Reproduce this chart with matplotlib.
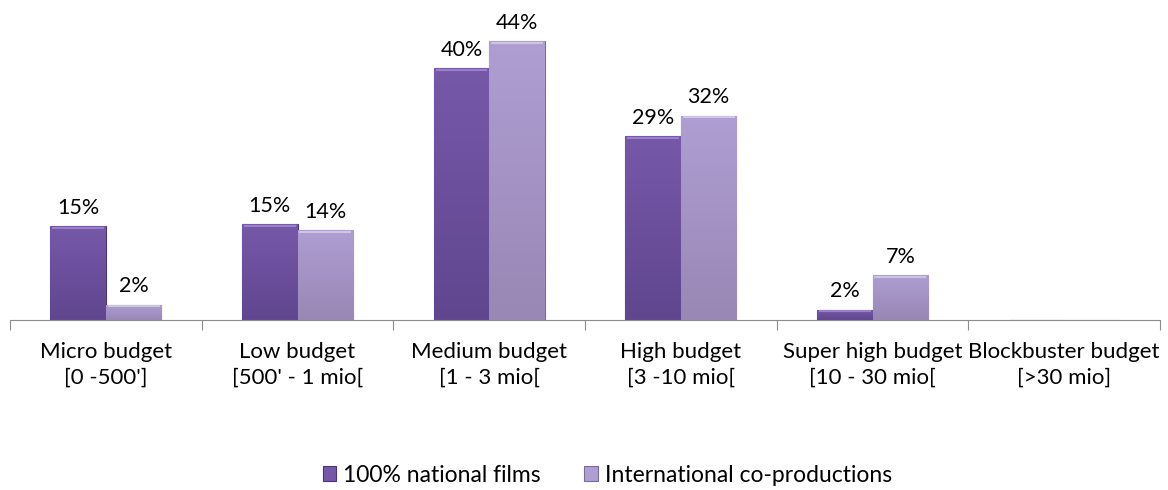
import numpy as np
import matplotlib
matplotlib.use("Agg")
import matplotlib.pyplot as plt
from matplotlib.colors import LinearSegmentedColormap

categories = ["Micro budget\n[0 -500']", "Low budget\n[500' - 1 mio[",
              "Medium budget\n[1 - 3 mio[", "High budget\n[3 -10 mio[",
              "Super high budget\n[10 - 30 mio[", "Blockbuster budget\n[>30 mio]"]
national = [14.8, 15.1, 39.7, 29.0, 1.6, 0.0]
international = [2.4, 14.2, 44.0, 32.2, 7.1, 0.0]
series_names = ["100% national films", "International co-productions"]

# (bottom, top) gradient colours, edge colour, top highlight
STYLE = {
    0: ("#60468f", "#7658a9", "#4a3472", "#9a80c8"),
    1: ("#9987b5", "#ae9ed2", "#7a6c96", "#cfc3ea"),
}

plt.rcParams["font.family"] = ["Lato", "DejaVu Sans"]

fig = plt.figure(figsize=(11.68, 4.9), dpi=100)
ax = fig.add_axes([0.0086, 0.347, 0.9846, 0.647])

x = np.arange(len(categories))
w = 0.29
grad = np.linspace(0, 1, 64).reshape(-1, 1)

handles = []
for i, (vals, offs) in enumerate(((national, -w / 2), (international, w / 2))):
    c_bot, c_top, c_edge, c_hi = STYLE[i]
    cmap = LinearSegmentedColormap.from_list(f"g{i}", [c_bot, c_top])
    bars = ax.bar(x + offs, vals, w, color=c_top, edgecolor=c_edge, lw=0.8,
                  label=series_names[i], zorder=2)
    handles.append(bars)
    for r, v in zip(bars, vals):
        if v <= 0:
            continue
        x0 = r.get_x()
        im = ax.imshow(grad, extent=[x0, x0 + w, 0, v], origin="lower",
                       aspect="auto", cmap=cmap, zorder=2.5)
        im.set_clip_path(r)
        ax.plot([x0 + 0.01, x0 + w - 0.01], [v - 0.25, v - 0.25], color=c_hi,
                lw=1.5, zorder=3, solid_capstyle="butt")
        ax.annotate(f"{round(v):.0f}%", (x0 + w / 2, v),
                    xytext=(0, 6), textcoords="offset points",
                    ha="center", va="bottom", fontsize=15.5)

ax.set_xlim(-0.5, len(categories) - 0.5)
ax.set_ylim(0, 50)
ax.set_yticks([])
for s in ("top", "right", "left"):
    ax.spines[s].set_visible(False)
ax.spines["bottom"].set_color("#8c8c8c")

ax.set_xticks(np.arange(len(categories) + 1) - 0.5)
ax.set_xticklabels([])
ax.tick_params(axis="x", length=7, color="#8c8c8c")
ax.set_xticks(x, minor=True)
ax.set_xticklabels(categories, minor=True, fontsize=16, linespacing=1.35)
ax.tick_params(axis="x", which="minor", length=0, pad=16)

fig.legend(handles=handles, loc="center", bbox_to_anchor=(0.52, 0.03),
           ncol=2, frameon=False, fontsize=16.5, handlelength=0.6,
           handleheight=0.6, handletextpad=0.3, columnspacing=1.9)

fig.savefig("out.png", dpi=100)
